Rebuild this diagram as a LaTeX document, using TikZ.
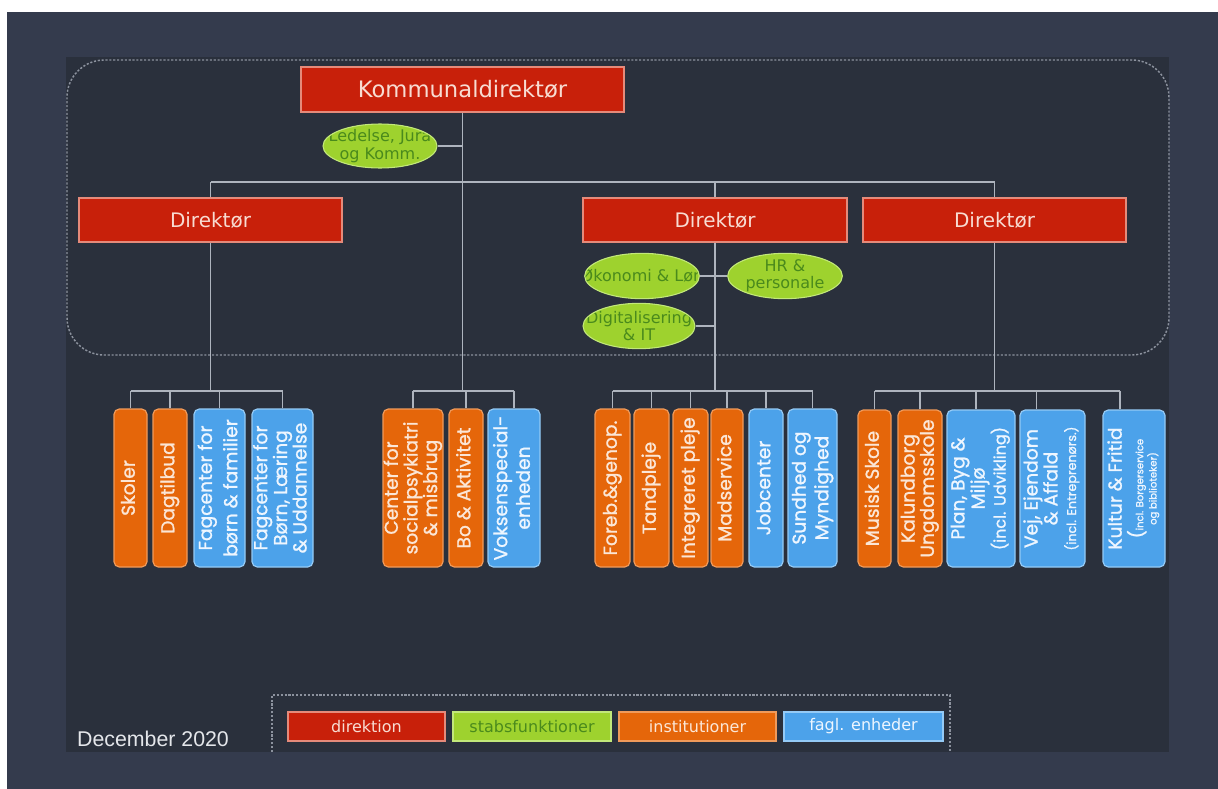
\documentclass[tikz,border=0pt]{standalone}
\usepackage{fontspec}
\usepackage{graphicx}
\setmainfont{DejaVu Sans}
\newfontfamily\popfont{Poppins}[FakeBold=1.2]
\newfontfamily\arialfont{Liberation Sans}
\usetikzlibrary{shapes.geometric}

\definecolor{slate}{HTML}{343B4D}
\definecolor{panel}{HTML}{2A303C}
\definecolor{dred}{HTML}{C8200A}
\definecolor{dredline}{HTML}{E58A7A}
\definecolor{dtext}{HTML}{F8DCD2}
\definecolor{sgreen}{HTML}{9ED22E}
\definecolor{sgreenline}{HTML}{C2E87A}
\definecolor{sgtext}{HTML}{4A8A1C}
\definecolor{iorange}{HTML}{E5660A}
\definecolor{ioline}{HTML}{F09A5A}
\definecolor{itext}{HTML}{FBE6D6}
\definecolor{fblue}{HTML}{4CA2EA}
\definecolor{fbline}{HTML}{94CAF6}
\definecolor{ftext}{HTML}{EEF6FF}
\definecolor{conn}{HTML}{AEB4BE}
\definecolor{dashc}{HTML}{8C929E}
\definecolor{datec}{HTML}{E4E6EA}

\newcommand\vt[2][16]{\rotatebox{90}{\fontsize{14}{#1}\selectfont\begin{tabular}{@{}c@{}}#2\end{tabular}}}
\newcommand\placebox[7]{\node[#1,minimum width={(#5-#3)*0.75pt},minimum height={(#6-#4)*0.75pt}] (#2) at ({(#3+#5)/2},{(#4+#6)/2}) {#7};}

\tikzset{
  dirbox/.style={draw=dredline, fill=dred, line width=1pt, text=dtext, inner sep=0pt},
  staff/.style={ellipse, draw=sgreenline, fill=sgreen, line width=0.8pt, inner sep=0pt,
    path picture={\node[text=sgtext, align=center, font=\fontsize{12}{13}\selectfont] at (path picture bounding box.center) {#1};}},
  inst/.style={draw=ioline, fill=iorange, rounded corners=4pt, line width=0.9pt, text=itext, inner sep=0pt, font=\popfont},
  fagl/.style={draw=fbline, fill=fblue, rounded corners=4pt, line width=0.9pt, text=ftext, inner sep=0pt, font=\popfont},
  legbox/.style={line width=0.9pt, inner sep=0pt, font=\fontsize{12}{14}\selectfont},
  link/.style={draw=conn, line width=1.1pt},
  frame/.style={draw=dashc, line width=1.1pt, dash pattern=on 1.6pt off 1.3pt}
}

\begin{document}
\begin{tikzpicture}[x=0.75pt,y=-0.75pt]
\useasboundingbox (0,0) rectangle (1218,789);
\fill[white] (0,0) rectangle (1218,789);
\fill[slate] (7,12) rectangle (1218,789);
\fill[panel] (66,57) rectangle (1169,752);
\draw[frame, rounded corners=28pt] (67,60) rectangle (1169,355);

\coordinate (bus0) at (0,182);
\coordinate (bus) at (0,391);

% top level
\placebox{dirbox, font=\fontsize{17}{20}\selectfont}{kd}{301}{67}{624}{112}{Kommunaldirektør}
\node[staff={Ledelse, Jura\\og Komm.}, minimum width=85.5pt, minimum height=33pt] (ledelse) at (380,146) {};

\placebox{dirbox, font=\fontsize{15}{18}\selectfont}{d1}{79}{198}{342}{242}{Direktør}
\placebox{dirbox, font=\fontsize{15}{18}\selectfont}{d2}{583}{198}{847}{242}{Direktør}
\placebox{dirbox, font=\fontsize{15}{18}\selectfont}{d3}{863}{198}{1126}{242}{Direktør}

\node[staff={Økonomi \& Løn}, minimum width=86pt, minimum height=34pt] (oek) at (642,276) {};
\node[staff={HR \&\\personale}, minimum width=86pt, minimum height=34pt] (hr) at (785,276) {};
\node[staff={Digitalisering\\\& IT}, minimum width=84pt, minimum height=34pt] (dig) at (639,326) {};

% bottom boxes group 1
\placebox{inst}{skoler}{114}{409}{147}{567}{\vt{Skoler}}
\placebox{inst}{dagtilbud}{153}{409}{187}{567}{\vt{Dagtilbud}}
\placebox{fagl}{fagbf}{194}{409}{245}{567}{\vt[19]{Fagcenter for\\børn \& familier}}
\placebox{fagl}{fagblu}{252}{409}{313}{567}{\vt[14]{Fagcenter for\\Børn, Læring\\\& Uddannelse}}
% group 2
\placebox{inst}{center}{383}{409}{443}{567}{\vt[13.5]{Center for\\socialpsykiatri\\\& misbrug}}
\placebox{inst}{bo}{449}{409}{483}{567}{\vt{Bo \& Aktivitet}}
\placebox{fagl}{voksen}{488}{409}{540}{567}{\vt[17]{Voksenspecial-\\enheden}}
% group 3
\placebox{inst}{foreb}{595}{409}{630}{567}{\vt{Foreb.\&genop.}}
\placebox{inst}{tand}{634}{409}{669}{567}{\vt{Tandpleje}}
\placebox{inst}{integ}{673}{409}{708}{567}{\vt{Integreret pleje}}
\placebox{inst}{mad}{711}{409}{743}{567}{\vt{Madservice}}
\placebox{fagl}{job}{749}{409}{783}{567}{\vt{Jobcenter}}
\placebox{fagl}{sund}{788}{409}{837}{567}{\vt[17]{Sundhed og\\Myndighed}}
% group 4
\placebox{inst}{musisk}{858}{410}{891}{567}{\vt{Musisk Skole}}
\placebox{inst}{kalund}{898}{410}{942}{567}{\vt[13.5]{Kalundborg\\Ungdomsskole}}
\placebox{fagl}{plan}{947}{410}{1015}{567}{\vt[15]{Plan, Byg \&\\Miljø\\{\fontsize{12}{14}\selectfont(incl. Udvikling)}}}
\placebox{fagl}{vej}{1020}{410}{1085}{567}{\vt[14]{Vej, Ejendom\\\& Affald\\{\fontsize{9.5}{11}\selectfont(incl. Entreprenørs.)}}}
\placebox{fagl}{kultur}{1103}{410}{1165}{567}{\vt[10]{Kultur \& Fritid\\[1pt]{\fontsize{13}{13}\selectfont(}{\fontsize{7.5}{9}\selectfont incl. Borgerservice}\\{\fontsize{7.5}{9}\selectfont og biblioteker)}}}

% connectors top
\draw[link] (kd.south) -- (kd.south |- bus);
\draw[link] (ledelse.east) -- (ledelse.east -| kd.south);
\draw[link] (d1.north |- bus0) -- (d3.north |- bus0);
\foreach \d in {d1,d2,d3} {\draw[link] (\d.north) -- (\d.north |- bus0);}
\foreach \d in {d1,d2,d3} {\draw[link] (\d.south) -- (\d.south |- bus);}
\draw[link] (oek.east) -- (oek.east -| d2.south);
\draw[link] (hr.west) -- (hr.west -| d2.south);
\draw[link] (dig.east) -- (dig.east -| d2.south);

% group bars
\draw[link] (skoler.north |- bus) -- (fagblu.north |- bus);
\foreach \n in {skoler,dagtilbud,fagbf,fagblu} {\draw[link] (\n.north) -- (\n.north |- bus);}
\draw[link] (center.north |- bus) -- (voksen.north |- bus);
\foreach \n in {center,bo,voksen} {\draw[link] (\n.north) -- (\n.north |- bus);}
\draw[link] (foreb.north |- bus) -- (sund.north |- bus);
\foreach \n in {foreb,tand,integ,mad,job,sund} {\draw[link] (\n.north) -- (\n.north |- bus);}
\draw[link] (musisk.north |- bus) -- ([xshift=-10.5pt]kultur.north |- bus);
\foreach \n in {musisk,kalund} {\draw[link] (\n.north) -- (\n.north |- bus);}
\draw[link] ([xshift=-3.75pt]plan.north) -- ([xshift=-3.75pt]plan.north |- bus);
\draw[link] ([xshift=-12pt]vej.north) -- ([xshift=-12pt]vej.north |- bus);
\draw[link] ([xshift=-10.5pt]kultur.north) -- ([xshift=-10.5pt]kultur.north |- bus);

% legend
\draw[frame] (272,752) -- (272,695) -- (950,695) -- (950,752);
\placebox{legbox, draw=dredline, fill=dred, text=dtext}{lg1}{288}{712}{445}{741}{direktion}
\placebox{legbox, draw=sgreenline, fill=sgreen, text=sgtext}{lg2}{453}{712}{611}{741}{stabsfunktioner}
\placebox{legbox, draw=ioline, fill=iorange, text=itext}{lg3}{619}{712}{776}{741}{institutioner}
\placebox{legbox, draw=fbline, fill=fblue, text=ftext}{lg4}{784}{712}{943}{741}{fagl. enheder}
\node[text=datec, font=\arialfont\fontsize{16}{18}\selectfont] (date) at (153,739) {December 2020};
\end{tikzpicture}
\end{document}
